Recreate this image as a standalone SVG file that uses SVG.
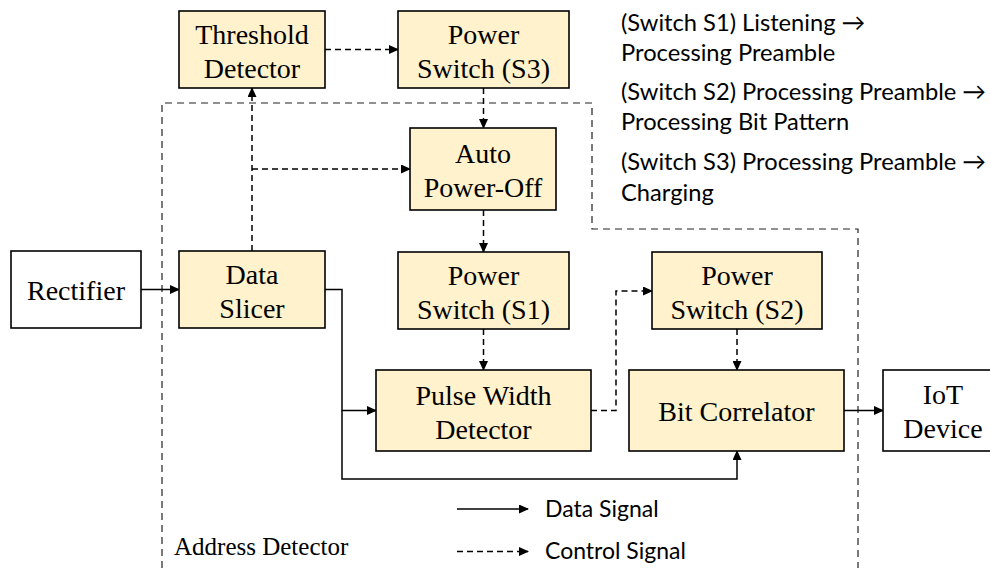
<svg xmlns="http://www.w3.org/2000/svg" width="990" height="568" viewBox="0 0 990 568">
  <style>
    .blk { fill: #FFF2CC; stroke: #000; stroke-width: 1.6; }
    .plain { fill: #fff; stroke: #000; stroke-width: 1.6; }
    .lbl { font-family: "Liberation Serif", "Times New Roman", serif; font-size: 28px; fill: #000; text-anchor: middle; }
    .note { font-family: Lato, "Open Sans", sans-serif; font-size: 23.7px; fill: #000; }
    .leg { font-family: Lato, "Open Sans", sans-serif; font-size: 23px; fill: #000; }
    .data { fill: none; stroke: #000; stroke-width: 1.5; }
    .ctrl { fill: none; stroke: #000; stroke-width: 1.5; stroke-dasharray: 6 4; }
    .zone { fill: none; stroke: #222; stroke-width: 1.2; stroke-dasharray: 7 5; }
  </style>
  <defs>
    <marker id="arr" markerWidth="10" markerHeight="9" refX="9" refY="4.5" orient="auto" markerUnits="userSpaceOnUse">
      <path d="M0,0 L10,4.5 L0,9 Z" fill="#000"/>
    </marker>
  </defs>

  <rect width="990" height="568" fill="#fff"/>

  <!-- address detector boundary -->
  <path class="zone" d="M162,568 V103 H592 V229 H858 V568"/>
  <text x="174" y="555" font-family="Liberation Serif, serif" font-size="25">Address Detector</text>

  <!-- connectors -->
  <g id="connectors">
    <path class="data" d="M141,289.5 H179" marker-end="url(#arr)"/>
    <path class="data" d="M325,289.5 H342 V410.5 H376" marker-end="url(#arr)"/>
    <path class="data" d="M342,410.5 V479 H737 V451" marker-end="url(#arr)"/>
    <path class="data" d="M844,410.5 H883" marker-end="url(#arr)"/>
    <path class="ctrl" d="M252,251 V88" marker-end="url(#arr)"/>
    <path class="ctrl" d="M252,169 H410" marker-end="url(#arr)"/>
    <path class="ctrl" d="M325,49.5 H398" marker-end="url(#arr)"/>
    <path class="ctrl" d="M483.5,88 V128" marker-end="url(#arr)"/>
    <path class="ctrl" d="M483.5,210 V252" marker-end="url(#arr)"/>
    <path class="ctrl" d="M483.5,329 V370" marker-end="url(#arr)"/>
    <path class="ctrl" d="M591,410.5 H616 V291 H652" marker-end="url(#arr)"/>
    <path class="ctrl" d="M737,329 V370" marker-end="url(#arr)"/>
  </g>

  <!-- blocks -->
  <g id="rectifier">
    <rect class="plain" x="11" y="251" width="130" height="77"/>
    <text class="lbl" x="76" y="300">Rectifier</text>
  </g>
  <g id="threshold-detector">
    <rect class="blk" x="179" y="11" width="146" height="77"/>
    <text class="lbl" x="252" y="43.5">Threshold</text>
    <text class="lbl" x="252" y="77.5">Detector</text>
  </g>
  <g id="power-switch-s3">
    <rect class="blk" x="398" y="11" width="171" height="77"/>
    <text class="lbl" x="483.5" y="43.5">Power</text>
    <text class="lbl" x="483.5" y="77.5">Switch (S3)</text>
  </g>
  <g id="auto-power-off">
    <rect class="blk" x="410" y="128" width="146" height="82"/>
    <text class="lbl" x="483" y="163">Auto</text>
    <text class="lbl" x="483" y="197">Power-Off</text>
  </g>
  <g id="data-slicer">
    <rect class="blk" x="179" y="251" width="146" height="77"/>
    <text class="lbl" x="252" y="283.5">Data</text>
    <text class="lbl" x="252" y="317.5">Slicer</text>
  </g>
  <g id="power-switch-s1">
    <rect class="blk" x="398" y="252" width="171" height="77"/>
    <text class="lbl" x="483.5" y="284.5">Power</text>
    <text class="lbl" x="483.5" y="318.5">Switch (S1)</text>
  </g>
  <g id="pulse-width-detector">
    <rect class="blk" x="376" y="370" width="215" height="81"/>
    <text class="lbl" x="483.5" y="404.5">Pulse Width</text>
    <text class="lbl" x="483.5" y="438.5">Detector</text>
  </g>
  <g id="power-switch-s2">
    <rect class="blk" x="652" y="252" width="170" height="77"/>
    <text class="lbl" x="737" y="284.5">Power</text>
    <text class="lbl" x="737" y="318.5">Switch (S2)</text>
  </g>
  <g id="bit-correlator">
    <rect class="blk" x="629" y="370" width="215" height="81"/>
    <text class="lbl" x="736.5" y="421">Bit Correlator</text>
  </g>
  <g id="iot-device">
    <rect class="plain" x="883" y="370" width="120" height="81"/>
    <text class="lbl" x="943" y="404">IoT</text>
    <text class="lbl" x="943" y="438">Device</text>
  </g>

  <!-- switch notes -->
  <g id="notes">
    <text class="note" x="621" y="31">(Switch S1) Listening →</text>
    <text class="note" x="621" y="61">Processing Preamble</text>
    <text class="note" x="621" y="100">(Switch S2) Processing Preamble →</text>
    <text class="note" x="621" y="130">Processing Bit Pattern</text>
    <text class="note" x="621" y="170">(Switch S3) Processing Preamble →</text>
    <text class="note" x="621" y="201">Charging</text>
  </g>

  <!-- legend -->
  <g id="legend">
    <path class="data" d="M457,509 H528" marker-end="url(#arr)"/>
    <path class="ctrl" d="M457,551.5 H528" marker-end="url(#arr)"/>
    <text class="leg" x="545" y="517">Data Signal</text>
    <text class="leg" x="545" y="559">Control Signal</text>
  </g>
</svg>
